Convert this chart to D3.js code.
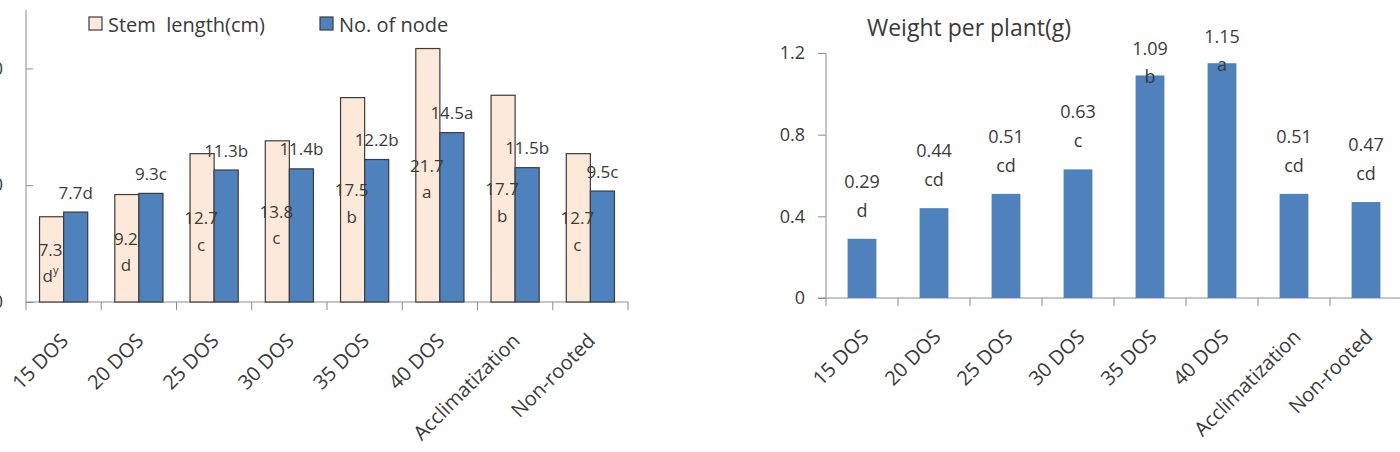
<!DOCTYPE html>
<html>
<head>
<meta charset="utf-8">
<script src="https://cdn.jsdelivr.net/npm/d3@7"></script>
<style>
  html, body { margin: 0; padding: 0; background: #fff; }
  svg { display: block; }
  text { font-family: "Open Sans", "Noto Sans", sans-serif; fill: #3a3a3a; }
</style>
</head>
<body>
<svg id="chart" width="1400" height="452"></svg>
<script>
// ---------------- data ----------------
const categories = ["15 DOS", "20 DOS", "25 DOS", "30 DOS", "35 DOS", "40 DOS", "Acclimatization", "Non-rooted"];
const stemLength = [7.3, 9.2, 12.7, 13.8, 17.5, 21.7, 17.7, 12.7];
const stemLetters = ["d", "d", "c", "c", "b", "a", "b", "c"];
const footnoteMark = "y"; // superscript on first stem label
const nodeCount = [7.7, 9.3, 11.3, 11.4, 12.2, 14.5, 11.5, 9.5];
const nodeLetters = ["d", "c", "b", "b", "b", "a", "b", "c"];
const weight = [0.29, 0.44, 0.51, 0.63, 1.09, 1.15, 0.51, 0.47];
const weightLetters = ["d", "cd", "cd", "c", "b", "a", "cd", "cd"];
const leftTicks = [0, 10, 20];
const leftMax = 25;
const rightTicks = [0, 0.4, 0.8, 1.2];
const rightMax = 1.2;
const seriesNames = ["Stem  length(cm)", "No. of node"];
const rightTitle = "Weight per plant(g)";

const svg = d3.select("#chart");
const axisColor = "#8c8c8c";
const stemFill = "#fde9d9";
const nodeFill = "#4f81bd";
const barStroke = "#3c3c3c";
const labelFont = 17;
const catFont = 20;

// ---------------- left chart ----------------
const L = { x0: 26, x1: 628, yTop: 10, yBot: 302 };
const xL = d3.scaleBand().domain(categories).range([L.x0, L.x1]).padding(0);
const yL = d3.scaleLinear().domain([0, leftMax]).range([L.yBot, L.yTop]);
const groupW = xL.bandwidth() * 0.64;
const xSub = d3.scaleBand().domain(["stem", "node"])
  .range([(xL.bandwidth() - groupW) / 2, (xL.bandwidth() + groupW) / 2]).padding(0);

const gL = svg.append("g");

const yAxisL = d3.axisLeft(yL).tickValues(leftTicks).tickSize(-7).tickPadding(23).tickFormat(d3.format("d"));
const gyL = gL.append("g").attr("transform", `translate(${L.x0},0)`).call(yAxisL);
gyL.select(".domain").attr("stroke", axisColor).attr("d", `M0,${L.yTop}V${L.yBot}`);
gyL.selectAll(".tick line").attr("stroke", axisColor);
gyL.selectAll(".tick text").attr("font-size", 18).style("fill", "#3a3a3a").attr("font-family", "Open Sans");

const xAxisL = d3.axisBottom(xL).tickSize(0).tickFormat("");
const gxL = gL.append("g").attr("transform", `translate(0,${L.yBot})`).call(xAxisL);
gxL.select(".domain").attr("stroke", axisColor).attr("d", `M${L.x0},0H${L.x1}`);
gL.append("g").selectAll("line").data(d3.range(categories.length + 1)).join("line")
  .attr("x1", i => L.x0 + i * xL.step()).attr("x2", i => L.x0 + i * xL.step())
  .attr("y1", L.yBot).attr("y2", L.yBot + 8).attr("stroke", axisColor);

const groups = gL.append("g").selectAll("g").data(categories).join("g")
  .attr("transform", d => `translate(${xL(d)},0)`);
groups.append("rect")
  .attr("x", xSub("stem")).attr("width", xSub.bandwidth())
  .attr("y", (d, i) => yL(stemLength[i])).attr("height", (d, i) => yL(0) - yL(stemLength[i]))
  .attr("fill", stemFill).attr("stroke", barStroke).attr("stroke-width", 1.2);
groups.append("rect")
  .attr("x", xSub("node")).attr("width", xSub.bandwidth())
  .attr("y", (d, i) => yL(nodeCount[i])).attr("height", (d, i) => yL(0) - yL(nodeCount[i]))
  .attr("fill", nodeFill).attr("stroke", barStroke).attr("stroke-width", 1.2);

groups.each(function (d, i) {
  const g = d3.select(this);
  const cx = xSub("stem") + xSub.bandwidth() / 2 - 1;
  const mid = (yL(stemLength[i]) + yL(0)) / 2;
  g.append("text").attr("x", cx).attr("y", mid - 10).attr("text-anchor", "middle")
    .attr("dominant-baseline", "central").attr("font-size", labelFont).text(stemLength[i].toFixed(1));
  const t = g.append("text").attr("x", cx).attr("y", mid + 16).attr("text-anchor", "middle")
    .attr("dominant-baseline", "central").attr("font-size", labelFont);
  t.append("tspan").text(stemLetters[i]);
  if (i === 0) t.append("tspan").attr("font-size", 11).attr("dy", -6).text(footnoteMark);
  const nx = xSub("node") + xSub.bandwidth() / 2;
  g.append("text").attr("x", nx).attr("y", yL(nodeCount[i]) - 20).attr("text-anchor", "middle")
    .attr("dominant-baseline", "central").attr("font-size", labelFont)
    .text(nodeCount[i].toFixed(1) + nodeLetters[i]);
});

gL.append("g").selectAll("text").data(categories).join("text")
  .attr("transform", d => `translate(${xL(d) + xL.bandwidth() / 2 + 6},${L.yBot + 40}) rotate(-45)`)
  .attr("text-anchor", "end").attr("font-size", catFont).text(d => d);

const legend = gL.append("g");
const legendItems = [
  { name: seriesNames[0], fill: stemFill, x: 89 },
  { name: seriesNames[1], fill: nodeFill, x: 320 }
];
legendItems.forEach(it => {
  legend.append("rect").attr("x", it.x).attr("y", 17).attr("width", 13).attr("height", 13)
    .attr("fill", it.fill).attr("stroke", barStroke).attr("stroke-width", 1.2);
  legend.append("text").attr("x", it.x + 19).attr("y", 24).attr("dominant-baseline", "central")
    .attr("font-size", 20).attr("xml:space", "preserve").text(it.name);
});

// ---------------- right chart ----------------
const R = { x0: 826, step: 72, yTop: 53, yBot: 298 };
const xR = d3.scaleBand().domain(categories).range([R.x0, R.x0 + R.step * categories.length]).paddingInner(0.6).paddingOuter(0.3);
const yR = d3.scaleLinear().domain([0, rightMax]).range([R.yBot, R.yTop]);
const gR = svg.append("g");

const yAxisR = d3.axisLeft(yR).tickValues(rightTicks).tickSize(8).tickPadding(13).tickFormat(d => d === 0 ? "0" : d3.format(".1f")(d));
const gyR = gR.append("g").attr("transform", `translate(${R.x0},0)`).call(yAxisR);
gyR.select(".domain").attr("stroke", axisColor).attr("d", `M0,${R.yTop}V${R.yBot}`);
gyR.selectAll(".tick line").attr("stroke", axisColor);
gyR.selectAll(".tick text").attr("font-size", 18).style("fill", "#3a3a3a").attr("font-family", "Open Sans");

gR.append("line").attr("x1", R.x0 - 8).attr("x2", R.x0 + R.step * categories.length)
  .attr("y1", R.yBot).attr("y2", R.yBot).attr("stroke", axisColor);
gR.append("g").selectAll("line").data(d3.range(categories.length + 1)).join("line")
  .attr("x1", i => R.x0 + i * R.step).attr("x2", i => R.x0 + i * R.step)
  .attr("y1", R.yBot).attr("y2", R.yBot + 8).attr("stroke", axisColor);

gR.append("g").selectAll("rect").data(categories).join("rect")
  .attr("x", d => xR(d)).attr("width", xR.bandwidth())
  .attr("y", (d, i) => yR(weight[i])).attr("height", (d, i) => yR(0) - yR(weight[i]))
  .attr("fill", nodeFill);

categories.forEach((c, i) => {
  const cx = xR(c) + xR.bandwidth() / 2;
  const top = yR(weight[i]);
  let vy = top - 58, ly = top - 29;
  if (vy < 45) { vy = top - 27; ly = top + 1; }
  gR.append("text").attr("x", cx).attr("y", vy).attr("text-anchor", "middle")
    .attr("dominant-baseline", "central").attr("font-size", 18).text(weight[i].toFixed(2));
  gR.append("text").attr("x", cx).attr("y", ly).attr("text-anchor", "middle")
    .attr("dominant-baseline", "central").attr("font-size", 18).text(weightLetters[i]);
});

gR.append("g").selectAll("text").data(categories).join("text")
  .attr("transform", d => `translate(${xR(d) + xR.bandwidth() / 2 + 8},${R.yBot + 40}) rotate(-45)`)
  .attr("text-anchor", "end").attr("font-size", catFont).text(d => d);

gR.append("text").attr("x", 969).attr("y", 27).attr("text-anchor", "middle")
  .attr("dominant-baseline", "central").attr("font-size", 23).text(rightTitle);
</script>
</body>
</html>
